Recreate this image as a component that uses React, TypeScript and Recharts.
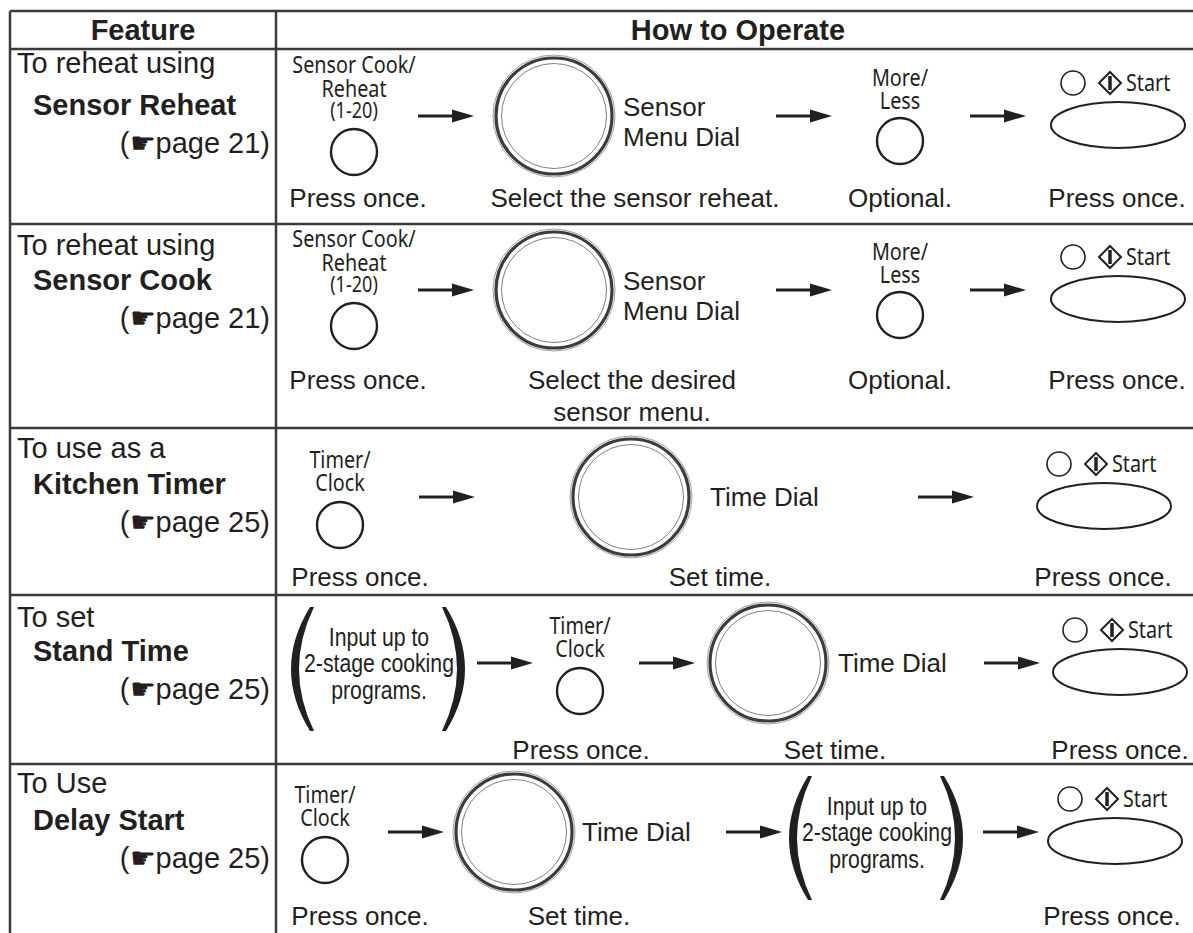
import { ScatterChart, Scatter, XAxis, YAxis, ReferenceLine } from 'recharts'

const W = 1193
const H = 933
const INK = '#231f20'
const RULE = '#3a3a3a'
const ARIAL = "'Liberation Sans', Arial, Helvetica, sans-serif"
const HUMAN = "'Noto Sans', 'Open Sans', sans-serif"

// ---- content ----
const HEADERS = ['Feature', 'How to Operate']
const FEATURE_INTRO = ['To reheat using', 'To reheat using', 'To use as a', 'To set', 'To Use']
const FEATURE_NAME = ['Sensor Reheat', 'Sensor Cook', 'Kitchen Timer', 'Stand Time', 'Delay Start']
const FEATURE_PAGE = [21, 21, 25, 25, 25]

const STEPS = [
  ['sensorBtn', 'arrow', 'sensorDial', 'arrow', 'moreLess', 'arrow', 'start'],
  ['sensorBtn', 'arrow', 'sensorDial', 'arrow', 'moreLess', 'arrow', 'start'],
  ['timerBtn', 'arrow', 'timeDial', 'arrow', 'start'],
  ['program', 'arrow', 'timerBtn', 'arrow', 'timeDial', 'arrow', 'start'],
  ['timerBtn', 'arrow', 'timeDial', 'arrow', 'program', 'arrow', 'start'],
]
const CAPTIONS = [
  ['Press once.', 'Select the sensor reheat.', 'Optional.', 'Press once.'],
  ['Press once.', 'Select the desired\nsensor menu.', 'Optional.', 'Press once.'],
  ['Press once.', 'Set time.', 'Press once.'],
  ['', 'Press once.', 'Set time.', 'Press once.'],
  ['Press once.', 'Set time.', '', 'Press once.'],
]
const BUTTON_LABELS: Record<string, string[]> = {
  sensorBtn: ['Sensor Cook/', 'Reheat', '(1-20)'],
  timerBtn: ['Timer/', 'Clock'],
  moreLess: ['More/', 'Less'],
}
const DIAL_LABELS: Record<string, string[]> = {
  sensorDial: ['Sensor', 'Menu Dial'],
  timeDial: ['Time Dial'],
}
const PROGRAM_TEXT = ['Input up to', '2-stage cooking', 'programs.']
const START_LABEL = 'Start'

// ---- layout (px in the 1193x933 frame) ----
const RULE_Y = [11, 49, 224, 428, 595, 764]
const RULE_X = [10, 276]
const TABLE_RIGHT = 1200
const ROW_TOP = [49, 224, 428, 595, 764]
const FLOW_DY = [67, 66, 69, 68, 68]
const CAPTION_DY = [158, 165, 158, 164, 161]
const FEATURE_DY = [24, 31, 30, 32, 29]
const STEP_X = [
  [354, 446, 554, 804, 900, 998, 1118],
  [354, 446, 554, 804, 900, 998, 1118],
  [340, 447, 631, 946, 1104],
  [378, 505, 580, 667, 768, 1012, 1120],
  [325, 416, 514, 754, 876, 1011, 1115],
]
const CAPTION_X = [
  [358, 635, 900, 1117],
  [358, 632, 900, 1117],
  [360, 720, 1103],
  [0, 581, 835, 1120],
  [360, 579, 0, 1112],
]
const DIAL_LABEL_GAP = [69, 69, 79, 70, 68]
const BUTTON_DY: Record<string, number> = { sensorBtn: 36, timerBtn: 28, moreLess: 25 }
const BUTTON_LINE_DY: Record<string, number[]> = {
  sensorBtn: [-87, -63, -42],
  timerBtn: [-65, -42],
  moreLess: [-63, -40],
}

// eslint-disable-next-line @typescript-eslint/no-explicit-any
function Txt({ x, y, text, size, family = ARIAL, weight = 400, anchor = 'middle', squeeze = 1 }: any) {
  return (
    <text
      transform={`translate(${x},${y}) scale(${squeeze},1)`}
      textAnchor={anchor}
      fontFamily={family}
      fontSize={size}
      fontWeight={weight}
      fill={INK}
    >
      {text}
    </text>
  )
}

function Arrow({ cx, cy }: { cx: number; cy: number }) {
  const x1 = cx - 28
  const x2 = cx + 28
  return (
    <g>
      <line x1={x1} y1={cy} x2={x2 - 18} y2={cy} stroke={INK} strokeWidth={3} />
      <path d={`M${x2},${cy} L${x2 - 22},${cy - 6.5} L${x2 - 22},${cy + 6.5} Z`} fill={INK} />
    </g>
  )
}

function Button({ cx, cy, kind }: { cx: number; cy: number; kind: string }) {
  const by = cy + BUTTON_DY[kind]
  const lines = BUTTON_LABELS[kind]
  return (
    <g>
      {lines.map((t, i) => {
        const small = t.startsWith('(')
        const size = small ? 21 : 23
        return (
          <Txt key={t} x={cx} y={by + BUTTON_LINE_DY[kind][i] + size * 0.36} text={t}
            size={size} family={HUMAN} squeeze={0.86} />
        )
      })}
      <circle cx={cx} cy={by} r={23} fill="none" stroke={INK} strokeWidth={2.4} />
    </g>
  )
}

function Dial({ cx, cy, kind, row }: { cx: number; cy: number; kind: string; row: number }) {
  const lines = DIAL_LABELS[kind]
  const lx = cx + DIAL_LABEL_GAP[row]
  const offs = lines.length === 2 ? [-9, 21] : [0]
  return (
    <g>
      <circle cx={cx} cy={cy} r={61} fill="none" stroke="#a0a0a0" strokeWidth={1} />
      <circle cx={cx} cy={cy} r={58} fill="none" stroke="#3c3c3c" strokeWidth={3.2} />
      <circle cx={cx} cy={cy} r={52.5} fill="none" stroke="#808080" strokeWidth={1} />
      {lines.map((t, i) => (
        <Txt key={t} x={lx} y={cy + offs[i] + 9.4} text={t} size={26} anchor="start" />
      ))}
    </g>
  )
}

function Program({ cx, cy }: { cx: number; cy: number }) {
  const mid = cy + 6
  const top = mid - 62
  const bot = mid + 62
  const L = cx - 87
  const R = cx + 87
  const left = `M${L + 19},${top} Q${L - 19},${mid} ${L + 19},${bot} L${L + 23},${bot} Q${L - 7},${mid} ${L + 23},${top} Z`
  const right = `M${R - 19},${top} Q${R + 19},${mid} ${R - 19},${bot} L${R - 23},${bot} Q${R + 7},${mid} ${R - 23},${top} Z`
  const offs = [-26, 0, 27]
  return (
    <g>
      <path d={left} fill={INK} />
      <path d={right} fill={INK} />
      {PROGRAM_TEXT.map((t, i) => (
        <Txt key={t} x={cx + 1} y={cy + offs[i] + 9} text={t} size={25} squeeze={0.85} />
      ))}
    </g>
  )
}

function Start({ cx, cy }: { cx: number; cy: number }) {
  const iy = cy - 33
  const dx = cx - 8
  return (
    <g>
      <circle cx={cx - 45} cy={iy} r={12} fill="none" stroke={INK} strokeWidth={1.6} />
      <path d={`M${dx},${iy - 11} L${dx + 11},${iy} L${dx},${iy + 11} L${dx - 11},${iy} Z`}
        fill="none" stroke={INK} strokeWidth={2} strokeLinejoin="miter" />
      <line x1={dx} y1={iy - 7} x2={dx} y2={iy + 7} stroke={INK} strokeWidth={3.5} />
      <Txt x={cx + 8} y={iy + 8} text={START_LABEL} size={23} family={HUMAN} anchor="start" squeeze={0.86} />
      <ellipse cx={cx} cy={cy + 9} rx={67} ry={23} fill="none" stroke={INK} strokeWidth={2} />
    </g>
  )
}

// eslint-disable-next-line @typescript-eslint/no-explicit-any
function StepShape(props: any) {
  const { cx, cy, payload } = props
  const { kind, row } = payload
  if (kind === 'arrow') return <Arrow cx={cx} cy={cy} />
  if (kind === 'start') return <Start cx={cx} cy={cy} />
  if (kind === 'program') return <Program cx={cx} cy={cy} />
  if (kind === 'sensorDial' || kind === 'timeDial') return <Dial cx={cx} cy={cy} kind={kind} row={row} />
  return <Button cx={cx} cy={cy} kind={kind} />
}

// eslint-disable-next-line @typescript-eslint/no-explicit-any
function CaptionShape(props: any) {
  const { cx, cy, payload } = props
  const lines: string[] = payload.text.split('\n')
  return (
    <g>
      {lines.map((t, i) => (
        <Txt key={t} x={cx} y={cy + i * 32} text={t} size={26} />
      ))}
    </g>
  )
}

// eslint-disable-next-line @typescript-eslint/no-explicit-any
function FeatureShape(props: any) {
  const { cx, cy, payload } = props
  const r = payload.row
  return (
    <g>
      <Txt x={cx} y={cy + FEATURE_DY[r]} text={FEATURE_INTRO[r]} size={29} anchor="start" />
      <Txt x={cx + 16} y={cy + 66} text={FEATURE_NAME[r]} size={29} weight={700} anchor="start" />
      <Txt x={RULE_X[1] - 6} y={cy + 104} text={`(\u261Bpage ${FEATURE_PAGE[r]})`} size={29} anchor="end" />
    </g>
  )
}

// eslint-disable-next-line @typescript-eslint/no-explicit-any
function HeaderShape(props: any) {
  const { cx, cy, payload } = props
  return <Txt x={cx} y={cy} text={payload.text} size={29} weight={700} />
}

export default function App() {
  const headerPts = HEADERS.map((text, i) => ({
    x: i === 0 ? (RULE_X[0] + RULE_X[1]) / 2 : (RULE_X[1] + TABLE_RIGHT) / 2,
    y: 40,
    text,
  }))
  const featurePts = FEATURE_INTRO.map((_, row) => ({ x: RULE_X[0] + 7, y: ROW_TOP[row], row }))
  const stepPts = STEPS.flatMap((steps, row) =>
    steps.map((kind, i) => ({ x: STEP_X[row][i], y: ROW_TOP[row] + FLOW_DY[row], kind, row })),
  )
  const captionPts = CAPTIONS.flatMap((caps, row) =>
    caps
      .map((text, i) => ({ x: CAPTION_X[row][i], y: ROW_TOP[row] + CAPTION_DY[row], text }))
      .filter(p => p.text),
  )

  return (
    <div style={{ position: 'absolute', left: 0, top: 0, width: W, height: H, background: '#fff' }}>
      <ScatterChart width={W} height={H} margin={{ top: 0, right: 0, bottom: 0, left: 0 }}>
        <XAxis type="number" dataKey="x" domain={[0, W]} hide />
        <YAxis type="number" dataKey="y" domain={[0, H]} reversed hide />
        {RULE_Y.map(y => (
          <ReferenceLine key={`h${y}`} segment={[{ x: RULE_X[0], y }, { x: W, y }]}
            stroke={RULE} strokeWidth={2.5} ifOverflow="visible" />
        ))}
        {RULE_X.map(x => (
          <ReferenceLine key={`v${x}`} segment={[{ x, y: RULE_Y[0] }, { x, y: H }]}
            stroke={RULE} strokeWidth={2.5} ifOverflow="visible" />
        ))}
        <Scatter data={headerPts} shape={HeaderShape} isAnimationActive={false} />
        <Scatter data={featurePts} shape={FeatureShape} isAnimationActive={false} />
        <Scatter data={stepPts} shape={StepShape} isAnimationActive={false} />
        <Scatter data={captionPts} shape={CaptionShape} isAnimationActive={false} />
      </ScatterChart>
    </div>
  )
}
